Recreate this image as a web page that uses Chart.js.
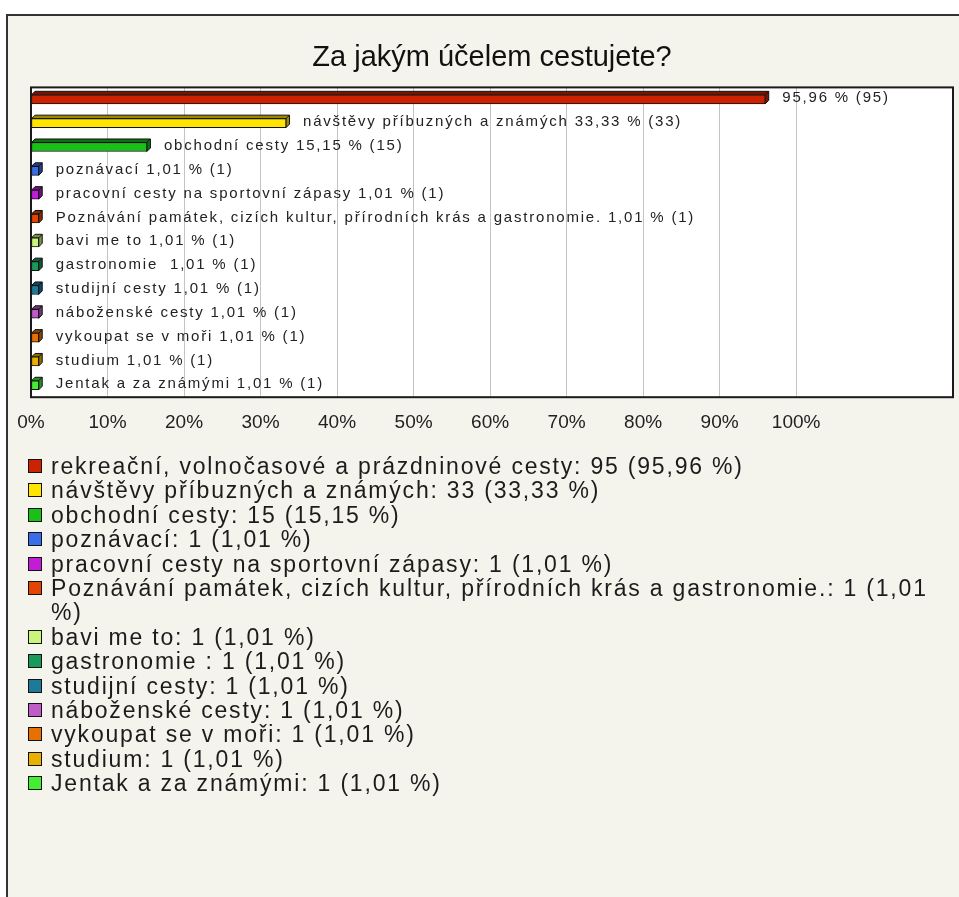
<!DOCTYPE html>
<html><head><meta charset="utf-8">
<script src="https://cdn.jsdelivr.net/npm/chart.js@4/dist/chart.umd.min.js"></script>
<style>
html,body{margin:0;padding:0;background:#fff;width:959px;height:897px;overflow:hidden;font-family:"Liberation Sans",Arial,sans-serif;}
#panel{position:absolute;left:6px;top:14px;right:-10px;bottom:-10px;background:#f4f3ec;border-left:2px solid #333;border-top:2px solid #333;}
#wrap{position:absolute;left:0;top:0;width:959px;height:455px;}
#legend{position:absolute;left:28px;top:454px;width:914px;}
.item{display:flex;align-items:flex-start;line-height:24.4px;font-size:23px;letter-spacing:1.8px;color:#1c1c1c;}
.box{flex:0 0 auto;width:12px;height:12px;border:1px solid #111;margin:5px 9px 0 0;}
</style></head>
<body>
<div id="panel"></div>
<div id="wrap"><canvas id="c" width="959" height="455"></canvas></div>
<div id="legend"></div>
<script>
const chartTitle = "Za jakým účelem cestujete?";
const categories = [
  "rekreační, volnočasové a prázdninové cesty",
  "návštěvy příbuzných a známých",
  "obchodní cesty",
  "poznávací",
  "pracovní cesty na sportovní zápasy",
  "Poznávání památek, cizích kultur, přírodních krás a gastronomie.",
  "bavi me to",
  "gastronomie ",
  "studijní cesty",
  "náboženské cesty",
  "vykoupat se v moři",
  "studium",
  "Jentak a za známými"
];
const counts = [95, 33, 15, 1, 1, 1, 1, 1, 1, 1, 1, 1, 1];
const percents = [95.96, 33.33, 15.15, 1.01, 1.01, 1.01, 1.01, 1.01, 1.01, 1.01, 1.01, 1.01, 1.01];
const nameOnBar = [false, true, true, true, true, true, true, true, true, true, true, true, true];
const xTickValues = [0, 10, 20, 30, 40, 50, 60, 70, 80, 90, 100];
const barColors = ["#cc2200", "#ffe400", "#18c018", "#3a6ee8", "#c21cd8", "#e34400", "#c8f57a", "#1a9a5a", "#1f7a99", "#c05cc8", "#e87000", "#e8b000", "#44ee33"];

function darker(hex, f) {
  const n = parseInt(hex.slice(1), 16);
  const r = Math.round(((n >> 16) & 255) * f), g = Math.round(((n >> 8) & 255) * f), b = Math.round((n & 255) * f);
  return `rgb(${r},${g},${b})`;
}
const fmt = v => v.toFixed(2).replace('.', ',');
const FONT = '"Liberation Sans", Arial, sans-serif';

const areaPlugin = {
  id: 'area',
  beforeDraw(chart) {
    const {ctx, chartArea: a} = chart;
    ctx.save(); ctx.fillStyle = '#ffffff';
    ctx.fillRect(a.left, a.top, a.right - a.left, a.bottom - a.top);
    ctx.restore();
  },
  beforeDatasetsDraw(chart) {
    const ctx = chart.ctx; const meta = chart.getDatasetMeta(0);
    ctx.save();
    meta.data.forEach((bar, i) => {
      const p = bar.getProps(['x', 'y', 'base', 'height'], true);
      const d = 3.5, top = p.y - p.height / 2, bot = p.y + p.height / 2;
      ctx.fillStyle = darker(barColors[i], 0.6);
      ctx.strokeStyle = '#111'; ctx.lineWidth = 1;
      ctx.beginPath();
      ctx.moveTo(p.base, top); ctx.lineTo(p.base + d, top - d); ctx.lineTo(p.x + d, top - d);
      ctx.lineTo(p.x + d, bot - d); ctx.lineTo(p.x, bot); ctx.lineTo(p.x, top); ctx.closePath();
      ctx.fill(); ctx.stroke();
      ctx.beginPath(); ctx.moveTo(p.x, top); ctx.lineTo(p.x + d, top - d); ctx.stroke();
    });
    ctx.restore();
  },
  afterDatasetsDraw(chart) {
    const ctx = chart.ctx; const meta = chart.getDatasetMeta(0);
    ctx.save();
    ctx.font = '15px ' + FONT; ctx.fillStyle = '#222';
    ctx.textBaseline = 'middle'; ctx.textAlign = 'left';
    try { ctx.letterSpacing = '1.8px'; } catch (e) {}
    meta.data.forEach((bar, i) => {
      const t = (nameOnBar[i] ? chart.data.labels[i] + ' ' : '') + fmt(percents[i]) + ' % (' + counts[i] + ')';
      ctx.fillText(t, bar.x + 17, bar.y - 1);
    });
    ctx.restore();
  },
  afterDraw(chart) {
    const {ctx, chartArea: a} = chart;
    ctx.save(); ctx.strokeStyle = '#1a1a1a'; ctx.lineWidth = 2;
    ctx.strokeRect(a.left, a.top, a.right - a.left, a.bottom - a.top);
    ctx.restore();
  }
};

const chart = new Chart(document.getElementById('c'), {
  type: 'bar',
  data: {
    labels: categories,
    datasets: [{
      data: percents,
      backgroundColor: barColors,
      borderColor: '#111',
      borderWidth: 1,
      borderSkipped: false,
      barThickness: 9
    }]
  },
  options: {
    indexAxis: 'y',
    responsive: false,
    animation: false,
    devicePixelRatio: 1,
    layout: {padding: {left: 31, right: 6, top: 0, bottom: 7}},
    scales: {
      x: {
        min: 0, max: 120.5,
        afterBuildTicks: s => { s.ticks = xTickValues.map(v => ({value: v})); },
        ticks: {callback: v => v + '%', font: {family: FONT, size: 19}, color: '#222', padding: 14, autoSkip: false, maxRotation: 0},
        grid: {color: '#c4c4c4', drawTicks: false, lineWidth: 1},
        border: {display: false}
      },
      y: {display: false}
    },
    plugins: {
      legend: {display: false},
      tooltip: {enabled: false},
      title: {display: true, text: chartTitle, color: '#111', font: {family: FONT, size: 29, weight: 'normal'}, padding: {top: 40.6, bottom: 12}}
    }
  },
  plugins: [areaPlugin]
});

const legendEl = document.getElementById('legend');
chart.data.labels.forEach((name, i) => {
  const row = document.createElement('div'); row.className = 'item';
  const box = document.createElement('span'); box.className = 'box'; box.style.background = barColors[i];
  const txt = document.createElement('span');
  txt.textContent = name + ': ' + counts[i] + ' (' + fmt(percents[i]) + ' %)';
  row.appendChild(box); row.appendChild(txt); legendEl.appendChild(row);
});
</script>
</body></html>
